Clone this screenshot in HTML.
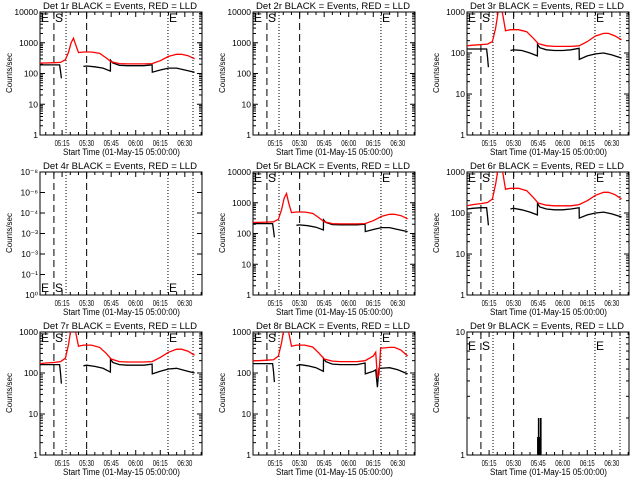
<!DOCTYPE html>
<html><head><meta charset="utf-8"><style>
html,body{margin:0;padding:0;background:#fff;}
svg{display:block;font-family:"Liberation Sans",sans-serif;}
</style></head><body>
<svg id="chart" width="640" height="480" viewBox="0 0 640 480" xmlns="http://www.w3.org/2000/svg">
<rect x="0" y="0" width="640" height="480" fill="#fff"/>
</svg>
<script>
// time grids (minutes after 05:00)
const tRed = [1.5,5,10,14,17,19,20.5,22,23.5,25,28,33,38,42,45,50,55,60,65,70,75,80,85,88,92,96];
const tBlack = [1.5,5,10,13.5,14,14.6,20,28,30,35,40,44.5,44.6,46,50,55,60,65,70,70.1,75,80,85,90,96];
const xTickLabels = ["05:15","05:30","05:45","06:00","06:15","06:30"];
const xTickTimes = [15,30,45,60,75,90];
const dashedTimes = [10,30];
const dottedTimes = [17.4,79.7,95];
// series per panel
const red1 = [220,220,225,230,280,500,1000,1400,800,480,500,500,450,320,240,210,205,205,205,210,260,360,420,420,380,300];
const black1 = [190,190,190,190,120,70,null,170,175,165,150,120,270,220,185,180,180,180,190,110,130,150,150,130,110];
const red3 = [150,155,160,165,190,400,1000,1600,800,350,370,370,330,230,170,150,145,145,145,150,190,260,300,300,260,210];
const black3 = [125,125,125,125,80,45,null,115,120,115,100,85,160,135,120,115,115,120,130,70,85,95,100,90,75];
const red5 = [230,230,235,240,290,600,1400,2000,900,480,500,500,450,320,240,210,205,205,205,210,260,360,420,420,380,300];
const black5 = [210,210,210,210,130,75,null,185,190,180,160,130,280,230,195,190,190,190,200,115,135,155,155,135,115];
const red6 = [150,160,170,180,220,500,1200,1800,900,380,400,400,350,240,175,155,150,150,150,160,200,270,320,320,280,220];
const black6 = [125,130,135,135,85,50,null,125,130,120,105,90,170,140,125,120,120,125,135,75,90,100,105,95,80];
const red7 = [170,175,180,190,230,500,1300,2000,900,450,480,480,420,300,220,190,185,185,185,190,240,320,380,380,340,270];
const black7 = [160,160,160,160,100,55,null,150,155,145,130,105,220,180,160,155,155,155,165,95,110,125,130,115,100];
const red8 = [200,200,205,210,260,550,1300,2000,900,450,480,480,430,300,220,195,190,190,190,200,260,380,420,420,360,260];
const black8 = [170,170,170,170,110,60,null,150,160,150,135,110,230,190,165,160,160,160,175,95,110,130,135,120,95];
// panel 8 extra glitch near 06:18
const tGlitch = [76.5,77.5,78.5,79.5];
const redGlitch = [320,80,90,400];
const blackGlitch = [120,45,130,130];
// panel 9 spikes
const tSpikes = [44.8,45.3,46.2,46.6];
const spikes = [1.4,2,1.4,2];

const svg = document.getElementById('chart');
const NS = 'http://www.w3.org/2000/svg';
function el(tag, attrs, parent){
  const e = document.createElementNS(NS, tag);
  for (const k in attrs) e.setAttribute(k, attrs[k]);
  (parent||svg).appendChild(e);
  return e;
}
const panels = [
  {n:1,c:0,r:0,hi:4,red:red1,black:black1,marks:'top'},
  {n:2,c:1,r:0,hi:4,marks:'top'},
  {n:3,c:2,r:0,hi:3,red:red3,black:black3,marks:'top'},
  {n:4,c:0,r:1,hi:6,weird:true,marks:'bottom'},
  {n:5,c:1,r:1,hi:4,red:red5,black:black5,marks:'top'},
  {n:6,c:2,r:1,hi:3,red:red6,black:black6,marks:'top'},
  {n:7,c:0,r:2,hi:3,red:red7,black:black7,marks:'top'},
  {n:8,c:1,r:2,hi:3,red:red8,black:black8,marks:'top',glitch:true},
  {n:9,c:2,r:2,hi:1,spikes:true,marks:'top9'}
];
panels.forEach(p=>{
  const ox = Math.round(p.c*213.33), oy = p.r*160;
  const L=ox+40, R=ox+202, T=oy+12, B=oy+135;
  const xOf = t => L + (t-1.5)/99*(R-L);
  const yOf = v => B - (Math.log10(v))/p.hi*(B-T);
  const g = el('g',{});
  
  
  const cp = el('clipPath',{id:'cp'+p.n},g);
  el('rect',{x:L,y:T,width:R-L,height:B-T},cp);
  // title
  const title = el('text',{x:ox+43,y:oy+9,'font-size':'9.5',fill:'#000',textLength:154,lengthAdjust:'spacingAndGlyphs'},g);
  title.textContent = 'Det '+p.n+'r BLACK = Events, RED = LLD';
  
  
  // frame
  const fr = el('rect',{x:L,y:T,width:R-L,height:B-T,fill:'none',stroke:'#000','stroke-width':1},g);
  
  
  // y ticks
  for(let d=0; d<=p.hi; d++){
    const y = T + (B-T)*(p.hi-d)/p.hi;
    el('line',{x1:L,x2:L+5,y1:y,y2:y,stroke:'#000'},g);
    el('line',{x1:R-5,x2:R,y1:y,y2:y,stroke:'#000'},g);
    let lab;
    if(p.weird){ lab = ['10\u2070','10\u207B\u00B9','10\u207B\u00B3','10\u207B\u00B3','10\u207B\u2074','10\u207B\u2076','10\u207B\u2078'][d]; }
    else lab = String(Math.pow(10,d));
    const tl = el('text',{x:L-2,y:y+3,'font-size':'8.5','text-anchor':'end',fill:'#000'},g);
    tl.textContent = lab;
    
    
    if(d<p.hi && !p.weird){
      for(let m=2;m<=9;m++){
        const ym = yOf(Math.pow(10,d)*m);
        el('line',{x1:L,x2:L+3,y1:ym,y2:ym,stroke:'#000'},g);
        el('line',{x1:R-3,x2:R,y1:ym,y2:ym,stroke:'#000'},g);
      }
    }
  }
  // y axis title
  const yt = el('text',{x:ox+12,y:oy+73,'font-size':'8','text-anchor':'middle',fill:'#000',transform:'rotate(-90 '+(ox+12)+' '+(oy+73)+')',textLength:40,lengthAdjust:'spacingAndGlyphs'},g);
  yt.textContent = 'Counts/sec';
  
  
  // x ticks
  for(let t=5;t<=100;t+=5){
    const x = xOf(t), major = (t%15===0);
    const len = major?5:3;
    el('line',{x1:x,x2:x,y1:B,y2:B-len,stroke:'#000'},g);
    el('line',{x1:x,x2:x,y1:T,y2:T+len,stroke:'#000'},g);
  }
  xTickTimes.forEach((t,i)=>{
    const tl = el('text',{x:xOf(t)-7.5,y:oy+146,'font-size':'8.5',fill:'#000',textLength:15,lengthAdjust:'spacingAndGlyphs'},g);
    tl.textContent = xTickLabels[i];
    
    
  });
  const xt = el('text',{x:ox+63,y:oy+155,'font-size':'9',fill:'#000',textLength:117,lengthAdjust:'spacingAndGlyphs'},g);
  xt.textContent = 'Start Time (01-May-15 05:00:00)';
  
  
  // vertical markers
  dashedTimes.forEach(t=>{
    const ln = el('line',{x1:xOf(t),x2:xOf(t),y1:T,y2:B,stroke:'#000','stroke-dasharray':'7,4'},g);
    
    
  });
  dottedTimes.forEach(t=>{
    const ln = el('line',{x1:xOf(t),x2:xOf(t),y1:T,y2:B,stroke:'#000','stroke-dasharray':'1,2'},g);
    
    
  });
  // E/S labels
  const my = p.marks==='bottom' ? oy+132 : (p.marks==='top9' ? oy+30 : oy+22);
  [['E',L+1],['S',ox+55],['E',ox+169]].forEach(([s,x])=>{
    const tx = el('text',{x:x,y:my,'font-size':'12',fill:'#000'},g);
    tx.textContent = s;
    
    
  });
  function poly(ts, vs, color, name){
    let d='', pen=false;
    ts.forEach((t,i)=>{
      const v=vs[i];
      if(v===null){pen=false;return;}
      d += (pen?'L':'M')+xOf(t).toFixed(1)+','+yOf(v).toFixed(1);
      pen=true;
    });
    const pa = el('path',{d:d,fill:'none',stroke:color,'stroke-width':1.3,'clip-path':'url(#cp'+p.n+')'},g);
    
    
  }
  if(p.red){
    let tr=tRed, rv=p.red, tb=tBlack, bv=p.black;
    if(p.glitch){
      const mr = tRed.map((t,i)=>[t,p.red[i]]).filter(a=>a[0]<76||a[0]>80).concat(tGlitch.map((t,i)=>[t,redGlitch[i]])).sort((a,b)=>a[0]-b[0]);
      tr = mr.map(a=>a[0]); rv = mr.map(a=>a[1]);
      const mb = tBlack.map((t,i)=>[t,p.black[i]]).filter(a=>a[0]<76||a[0]>80).concat(tGlitch.map((t,i)=>[t,blackGlitch[i]])).sort((a,b)=>a[0]-b[0]);
      tb = mb.map(a=>a[0]); bv = mb.map(a=>a[1]);
    }
    poly(tb,bv,'#000','events-series');
    poly(tr,rv,'#ff0000','lld-series');
  }
  if(p.spikes){
    tSpikes.forEach((t,i)=>{
      const r = el('rect',{x:xOf(t)-0.8,y:yOf(spikes[i]),width:1.6,height:B-yOf(spikes[i]),fill:'#000'},g);
      
      
    });
  }
});
</script>
</body></html>
